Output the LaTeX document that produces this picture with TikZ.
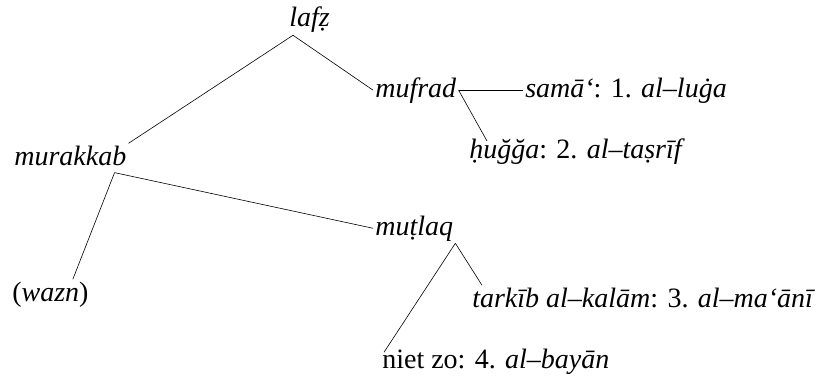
\documentclass[tikz,border=0pt]{standalone}
\usepackage{fontspec}
\setmainfont{Liberation Serif}
\usepackage{tikz}

\begin{document}
\begin{tikzpicture}[x=1pt, y=-1pt, semithick, term/.style={anchor=base west, inner sep=2pt, font=\fontsize{28}{32}\selectfont}]

    \useasboundingbox (0,0) rectangle (825,380);

    \node[term] at (287,  27) (lafz) {\textit{lafẓ}};
    \node[term] at (373,  97) (mufrad) {\textit{mufrad}};
    \node[term] at (523,  97) (sama) {\textit{samā‘}: 1. \textit{al–luġa}};
    \node[term] at (467, 158) (hugga) {\textit{ḥuğğa}: 2. \textit{al–taṣrīf}};
    \node[term] at ( 12, 165) (murakkab) {\textit{murakkab}};
    \node[term] at (373, 235) (mutlaq) {\textit{muṭlaq}};
    \node[term] at ( 10, 301) (wazn) {(\textit{wazn})};
    \node[term] at (470, 307) (tarkib) {\textit{tarkīb al–kalām}: 3. \textit{al–ma‘ānī}};
    \node[term] at (380, 368) (niet) {niet zo: 4. \textit{al–bayān}};

    \path[draw] ([xshift=6pt]lafz.south west) edge (murakkab.north east);
    \path[draw] ([xshift=6pt]lafz.south west) edge (mufrad.west);
    \path[draw] (mufrad.east) edge (sama.west |- mufrad.east);
    \path[draw] (mufrad.east) edge ([xshift=20pt,yshift=-5pt]hugga.north west);
    \path[draw] ([xshift=-14pt,yshift=-5pt]murakkab.south east) edge ([xshift=-18pt]wazn.north east);
    \path[draw] ([xshift=-14pt,yshift=-5pt]murakkab.south east) edge (mutlaq.west);
    \path[draw] (mutlaq.south east) edge ([xshift=12pt]tarkib.north west);
    \path[draw] (mutlaq.south east) edge ([xshift=4pt,yshift=-6pt]niet.north west);

\end{tikzpicture}
\end{document}
